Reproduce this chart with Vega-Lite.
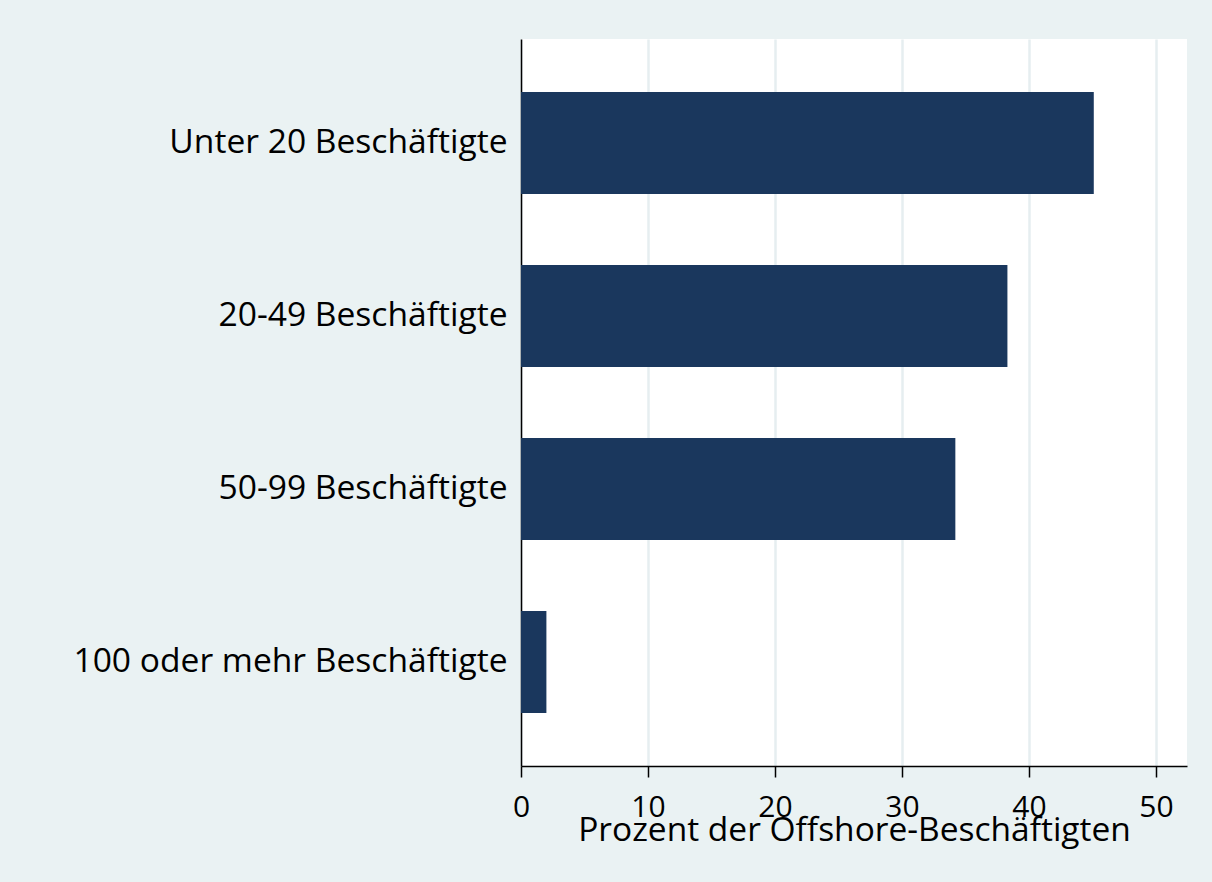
{
  "$schema": "https://vega.github.io/schema/vega-lite/v6.json",
  "width": 666,
  "height": 727,
  "autosize": {"type": "none"},
  "padding": {"left": 521, "top": 39, "right": 25, "bottom": 116},
  "background": "#eaf2f3",
  "config": {
    "view": {"fill": "white", "stroke": null},
    "font": "Open Sans"
  },
  "data": {
    "values": [
      {"kategorie": "Unter 20 Beschäftigte", "prozent": 45.1},
      {"kategorie": "20-49 Beschäftigte", "prozent": 38.3},
      {"kategorie": "50-99 Beschäftigte", "prozent": 34.2},
      {"kategorie": "100 oder mehr Beschäftigte", "prozent": 2.0}
    ]
  },
  "mark": {"type": "bar", "color": "#1a375d"},
  "encoding": {
    "y": {
      "field": "kategorie",
      "type": "nominal",
      "sort": null,
      "scale": {"paddingInner": 0.41, "paddingOuter": 0.306},
      "axis": {
        "title": null,
        "domainColor": "black",
        "domainWidth": 1.5,
        "ticks": false,
        "labelPadding": 14,
        "labelFontSize": 33.6,
        "labelLimit": 0,
        "labelColor": "black",
        "labelFont": "Open Sans",
        "grid": false
      }
    },
    "x": {
      "field": "prozent",
      "type": "quantitative",
      "scale": {"domain": [0, 52.44], "nice": false, "zero": true},
      "axis": {
        "title": "Prozent der Offshore-Beschäftigten",
        "values": [0, 10, 20, 30, 40, 50],
        "domainColor": "black",
        "domainWidth": 1.5,
        "tickColor": "black",
        "tickWidth": 1.5,
        "tickSize": 11,
        "labelFontSize": 30,
        "labelColor": "black",
        "labelPadding": 15,
        "labelFont": "Open Sans",
        "labelFlush": false,
        "labelOverlap": false,
        "gridColor": "#e6eef0",
        "gridWidth": 2.5,
        "titleFontSize": 33.5,
        "titleFontWeight": "normal",
        "titleColor": "black",
        "titleFont": "Open Sans",
        "titleBaseline": "middle",
        "titlePadding": 0,
        "titleY": 64
      }
    }
  }
}
